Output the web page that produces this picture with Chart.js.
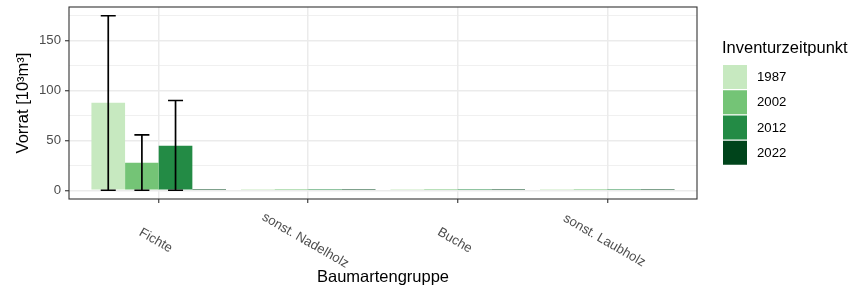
<!DOCTYPE html>
<html>
<head>
<meta charset="utf-8">
<script src="https://cdn.jsdelivr.net/npm/chart.js@4"></script>
<style>
  body { margin: 0; background: #fff; }
  #wrap { width: 849px; height: 293px; }
</style>
</head>
<body>
<div id="wrap"><canvas id="myChart" width="849" height="293"></canvas></div>
<script>
var categories = ['Fichte', 'sonst. Nadelholz', 'Buche', 'sonst. Laubholz'];
var years = ['1987', '2002', '2012', '2022'];

// Vorrat [10^3 m^3]
var vorrat1987 = [87.7, 1.4, 1.4, 1.4];
var vorrat2002 = [27.7, 1.4, 1.4, 1.4];
var vorrat2012 = [44.7, 1.4, 1.4, 1.4];
var vorrat2022 = [1.4, 1.4, 1.4, 1.4];

// error bars (lower / upper)
var lower1987 = [0, null, null, null];
var upper1987 = [175, null, null, null];
var lower2002 = [0, null, null, null];
var upper2002 = [55.5, null, null, null];
var lower2012 = [0, null, null, null];
var upper2012 = [90, null, null, null];
var lower2022 = [null, null, null, null];
var upper2022 = [null, null, null, null];

var yTicks = [0, 25, 50, 75, 100, 125, 150, 175];

var colors = ['#C7E9C0', '#74C476', '#238B45', '#00441B'];
var FONT = '"Liberation Sans", Arial, sans-serif';

var allValues = [vorrat1987, vorrat2002, vorrat2012, vorrat2022];
var allLower = [lower1987, lower2002, lower2012, lower2022];
var allUpper = [upper1987, upper2002, upper2012, upper2022];

var datasets = [];
for (var d = 0; d < years.length; d++) {
  datasets.push({
    label: years[d],
    data: allValues[d].map(function(v, i){ return {x: i, y: v}; }),
    backgroundColor: colors[d],
    borderWidth: 0,
    categoryPercentage: 0.9,
    barPercentage: 1.0
  });
}

var ggPlugin = {
  id: 'gg',
  afterDatasetsDraw: function(chart) {
    var ctx = chart.ctx;
    var ys = chart.scales.y;
    ctx.save();
    ctx.strokeStyle = '#000000';
    ctx.lineWidth = 1.7;
    for (var d = 0; d < years.length; d++) {
      var meta = chart.getDatasetMeta(d);
      meta.data.forEach(function(bar, i){
        var hi = allUpper[d][i], lo = allLower[d][i];
        if (hi == null || lo == null) return;
        var yh = ys.getPixelForValue(hi), yl = ys.getPixelForValue(lo);
        ctx.beginPath();
        ctx.moveTo(bar.x, yl); ctx.lineTo(bar.x, yh);
        ctx.moveTo(bar.x - 7.5, yh); ctx.lineTo(bar.x + 7.5, yh);
        ctx.moveTo(bar.x - 7.5, yl); ctx.lineTo(bar.x + 7.5, yl);
        ctx.stroke();
      });
    }
    ctx.restore();
  },
  afterDraw: function(chart) {
    var ctx = chart.ctx;
    var a = chart.chartArea;
    var xs = chart.scales.x;
    ctx.save();
    // panel border
    ctx.strokeStyle = '#333333';
    ctx.lineWidth = 1.1;
    ctx.strokeRect(a.left, a.top, a.right - a.left, a.bottom - a.top);

    // rotated category labels
    ctx.fillStyle = '#4D4D4D';
    ctx.font = '13.2px ' + FONT;
    ctx.textAlign = 'center';
    ctx.textBaseline = 'middle';
    categories.forEach(function(c, i){
      var px = xs.getPixelForValue(i);
      ctx.save();
      ctx.translate(px - 3, 240.5);
      ctx.rotate(Math.PI / 6);
      ctx.fillText(c, 0, 0);
      ctx.restore();
    });

    // axis titles
    ctx.fillStyle = '#000000';
    ctx.font = '16.5px ' + FONT;
    ctx.fillText('Baumartengruppe', (a.left + a.right) / 2, 277);
    ctx.save();
    ctx.translate(23.5, (a.top + a.bottom) / 2);
    ctx.rotate(-Math.PI / 2);
    ctx.fillText('Vorrat [10\u00B3m\u00B3]', 0, 0);
    ctx.restore();

    // legend
    ctx.textAlign = 'left';
    ctx.fillText('Inventurzeitpunkt', 722, 48);
    ctx.font = '13.2px ' + FONT;
    for (var i = 0; i < years.length; i++) {
      var top = 65 + i * 25.25;
      ctx.fillStyle = colors[i];
      ctx.fillRect(723, top, 24, 24);
      ctx.fillStyle = '#000000';
      ctx.fillText(years[i], 757, top + 12.5);
    }
    ctx.restore();
  }
};

var isMajor = function(ctx){ return ctx.tick && ctx.tick.value % 50 === 0; };

var chart = new Chart(document.getElementById('myChart').getContext('2d'), {
  type: 'bar',
  data: { datasets: datasets },
  options: {
    responsive: false,
    animation: false,
    layout: { padding: { left: 0, right: 152, top: 7, bottom: 0 } },
    plugins: { legend: { display: false }, tooltip: { enabled: false } },
    scales: {
      x: {
        type: 'linear',
        min: -0.6,
        max: 3.6,
        offset: false,
        grid: { offset: false, color: '#EBEBEB', lineWidth: 1.5, tickColor: '#333333', tickWidth: 1.1, tickLength: 4 },
        border: { display: false },
        ticks: { display: false },
        afterBuildTicks: function(scale){ scale.ticks = categories.map(function(c, i){ return {value: i}; }); },
        afterFit: function(scale){ scale.height = 94; scale.paddingLeft = 0; scale.paddingRight = 0; }
      },
      y: {
        min: -8.75,
        max: 183.75,
        grid: {
          color: '#EBEBEB',
          lineWidth: function(ctx){ return isMajor(ctx) ? 1.5 : 0.75; },
          tickColor: function(ctx){ return isMajor(ctx) ? '#333333' : 'rgba(0,0,0,0)'; },
          tickWidth: 1.1,
          tickLength: 4
        },
        border: { display: false },
        ticks: {
          color: '#4D4D4D',
          font: { size: 13.2, family: FONT },
          padding: 4,
          callback: function(v){ return v % 50 === 0 ? String(v) : ''; }
        },
        afterBuildTicks: function(scale){ scale.ticks = yTicks.map(function(v){ return {value: v}; }); },
        afterFit: function(scale){ scale.width = 69; scale.paddingTop = 0; scale.paddingBottom = 0; }
      }
    }
  },
  plugins: [ggPlugin]
});
</script>
</body>
</html>
